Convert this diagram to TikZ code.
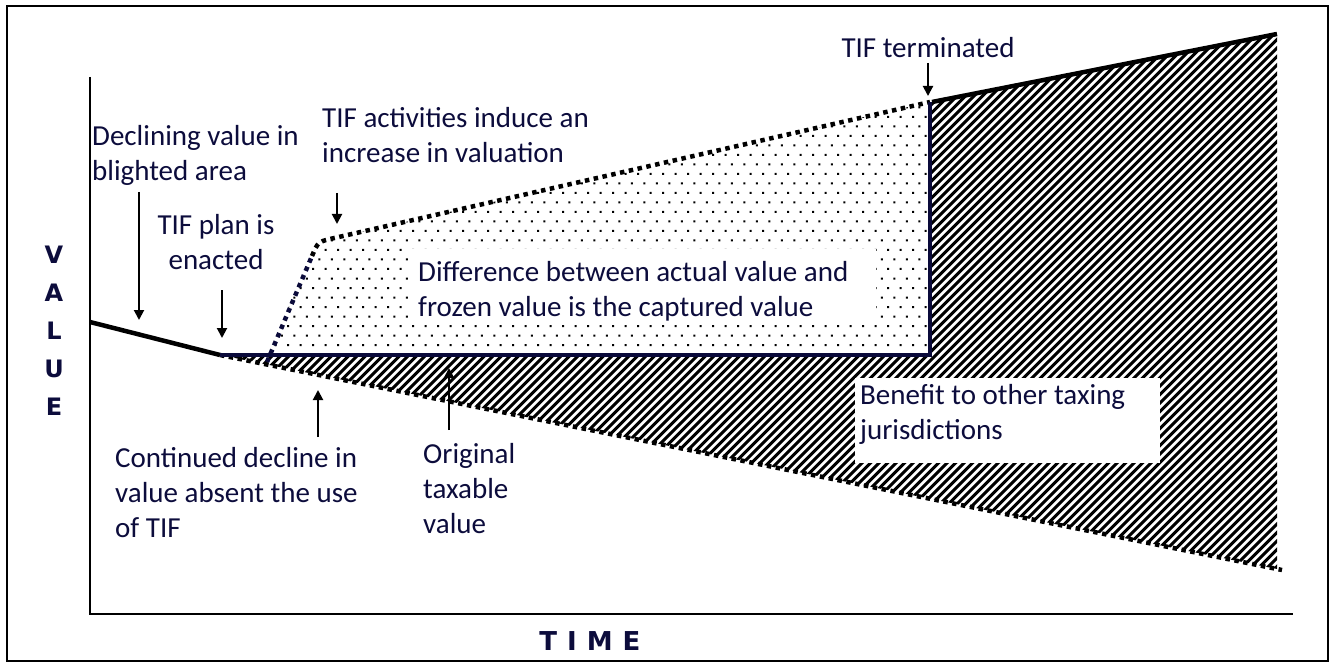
\documentclass[tikz,border=0pt]{standalone}
\usepackage{fontspec}
\setmainfont{Carlito}
\newfontfamily\axisfont{DejaVu Sans}
\usetikzlibrary{arrows.meta}
\definecolor{navytext}{RGB}{12,12,60}
\definecolor{navyline}{RGB}{10,10,58}
\begin{document}
\begin{tikzpicture}[x=1pt,y=-1pt,
  lbl/.style={font=\fontsize{29}{35}\selectfont, text=navytext, inner sep=0pt, align=left},
  whitebox/.style={fill=white, draw=none, inner sep=0pt, anchor=north west},
  arr/.style={-{Triangle[length=10pt,width=10pt]}, line width=2pt, black},
  dotline/.style={line width=4.5pt, dash pattern=on 4.5pt off 4.5pt},
  solidline/.style={line width=4.5pt},
  axislbl/.style={font=\axisfont\bfseries\fontsize{24}{38}\selectfont, text=navytext, inner sep=0pt, align=center}]
\useasboundingbox (0,0) rectangle (1335,668);
% frame
\draw[line width=2pt] (7,6) rectangle (1328,661);
% key points
\coordinate (ytop) at (90,77);
\coordinate (orig0) at (90,614);
\coordinate (xend) at (1293,614);
\coordinate (p0) at (90,322);
\coordinate (p1) at (220,355);
\coordinate (p2) at (930,355);
\coordinate (p3) at (930,102);
\coordinate (p4) at (1277,34);
\coordinate (p5) at (1282,570);
\coordinate (q0) at (267,362);
\coordinate (q1) at (312,256);
\coordinate (qc) at (318,242);
\coordinate (q2) at (330,239);
% hatched region
\begin{scope}
\clip (p1) -- (p2) -- (p3) -- (p4) -- (1277,569) -- cycle;
\foreach \a in {-140,-131.5,...,1160} \draw[line width=3.1pt] (\a,700) -- ++(700,-700);
\end{scope}
% dotted region
\begin{scope}
\clip (267,355) -- (qc) -- (p3) -- (p2) -- cycle;
\fill foreach \r in {0,...,27} { foreach \c in {0,...,54} { ({262+\c*12.5+mod(\r,2)*6.25},{97+\r*9.5}) rectangle ++(2,2) } };
\end{scope}
% white label boxes
\node[whitebox, minimum width=467pt, minimum height=76pt] (diffbox) at (409,249) {};
\node[whitebox, minimum width=305pt, minimum height=85pt] (benbox) at (855,378) {};
% axes
\draw[line width=2.5pt] (ytop) -- (orig0) -- (xend);
% value lines
\draw[dotline, black] (p1) -- (p5);
\draw[dotline, navyline] (q0) -- (q1);
\draw[dotline, black] (q1) .. controls (qc) .. (q2) -- (p3);
\draw[solidline, black] (p0) -- (p1);
\draw[solidline, navyline] (p1) -- (p2) -- (p3);
\draw[solidline, black] (932,102) -- (p4);
% labels
\node[lbl, anchor=north west] (diff) at (418,261) {Difference between actual value and\\frozen value is the captured value};
\node[lbl, anchor=north west] (ben) at (860,384) {Benefit to other taxing\\jurisdictions};
\node[lbl, anchor=north west] (decl) at (92,125) {Declining value in\\blighted area};
\node[lbl, anchor=north west] (act) at (322,107) {TIF activities induce an\\increase in valuation};
\node[lbl, anchor=north, align=center] (plan) at (216,214) {TIF plan is\\enacted};
\node[lbl, anchor=north] (term) at (928,37) {TIF terminated};
\node[lbl, anchor=north west] (cont) at (115,447) {Continued decline in\\value absent the use\\of TIF};
\node[lbl, anchor=north west] (orig) at (423,443) {Original\\taxable\\value};
% arrows
\coordinate (a1s) at (139,192); \coordinate (a1e) at (139,320);
\coordinate (a2s) at (222,290); \coordinate (a2e) at (222,338);
\coordinate (a3s) at (337,193); \coordinate (a3e) at (337,224);
\coordinate (a4s) at (928,63);  \coordinate (a4e) at (928,96);
\coordinate (a5s) at (318,437); \coordinate (a5e) at (318,390);
\coordinate (a6s) at (449,430); \coordinate (a6e) at (449,368);
\draw[arr] (a1s) -- (a1e);
\draw[arr] (a2s) -- (a2e);
\draw[arr] (a3s) -- (a3e);
\draw[arr] (a4s) -- (a4e);
\draw[arr] (a5s) -- (a5e);
\draw[arr] (a6s) -- (a6e);
% axis labels
\node[axislbl] (value) at (54,331) {V\\A\\L\\U\\E};
\node[axislbl, font=\axisfont\bfseries\fontsize{26}{30}\selectfont] (time) at (590,641) {T\hspace{10pt}I\hspace{10pt}M\hspace{10pt}E};
\end{tikzpicture}
\end{document}
